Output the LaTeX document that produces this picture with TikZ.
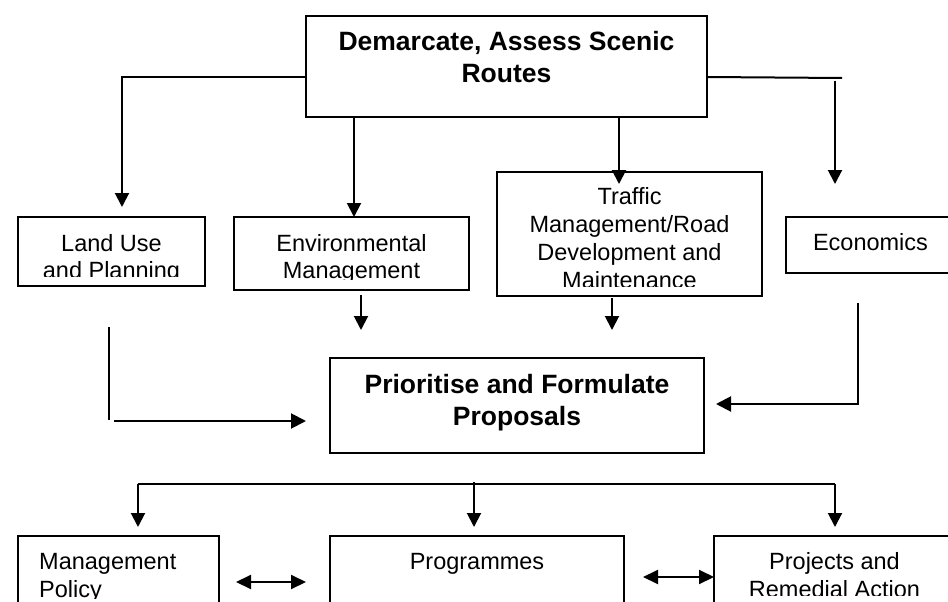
\documentclass[tikz,border=0pt]{standalone}
\usepackage{fontspec}
\setmainfont{Liberation Sans}
\usetikzlibrary{arrows.meta,calc}
\begin{document}
\begin{tikzpicture}[x=1pt,y=-1pt,
  box/.style={draw,line width=1.2pt,inner sep=0pt,outer sep=0pt},
  conn/.style={line width=2pt},
  arr/.style={conn,-{Triangle[length=14pt,width=14pt]}},
  harr/.style={conn,-{Triangle[length=15pt,width=15pt]}},
  darr/.style={conn,{Triangle[length=15pt,width=14pt]}-{Triangle[length=15pt,width=14pt]}},
  reg/.style={font=\fontsize{23.5}{27}\selectfont,anchor=base,inner sep=0pt},
  bld/.style={font=\bfseries\fontsize{26.5}{32}\selectfont,anchor=base,inner sep=0pt}]

\useasboundingbox[fill=white] (0,0) rectangle (948,602);

% boxes
\node[box,minimum width=401pt,minimum height=101pt] (top) at (506.5,66.5) {};
\node[box,minimum width=187pt,minimum height=69pt] (land) at (111.5,251.5) {};
\node[box,minimum width=235pt,minimum height=73pt] (env) at (351.5,253.5) {};
\node[box,minimum width=265pt,minimum height=124pt] (traffic) at (629.5,234) {};
\node[box,minimum width=169pt,minimum height=56pt] (econ) at (870.5,245) {};
\node[box,minimum width=374pt,minimum height=95pt] (prio) at (517,405.5) {};
\node[box,minimum width=201pt,minimum height=84pt] (mgmt) at (118.5,578) {};
\node[box,minimum width=294pt,minimum height=84pt] (prog) at (477,578) {};
\node[box,minimum width=241pt,minimum height=84pt] (proj) at (834.5,578) {};

% texts
\node[bld] (topa) at (506.5,51) {Demarcate, Assess Scenic};
\node[bld] (topb) at (506.5,82) {Routes};
\begin{scope}
  \clip (land.north west) rectangle ([yshift=10pt]land.south east);
  \node[reg] (landa) at (111.5,251) {Land Use};
  \node[reg] (landb) at (111.5,278) {and Planning};
\end{scope}
\begin{scope}
  \clip (env.north west) rectangle ([yshift=11pt]env.south east);
  \node[reg] (enva) at (351.5,251) {Environmental};
  \node[reg] (envb) at (351.5,278) {Management};
\end{scope}
\begin{scope}
  \clip (traffic.north west) rectangle ([yshift=10pt]traffic.south east);
  \node[reg] (tra) at (629.5,204) {Traffic};
  \node[reg] (trb) at (629.5,232) {Management/Road};
  \node[reg] (trc) at (629.5,260) {Development and};
  \node[reg] (trd) at (629.5,288) {Maintenance};
\end{scope}
\node[reg] (econa) at (870.5,250) {Economics};
\node[bld] (prioa) at (517,393) {Prioritise and Formulate};
\node[bld] (priob) at (517,425) {Proposals};
\begin{scope}
  \clip (mgmt.north west) rectangle (219,598);
  \node[reg,anchor=base west] (mgmta) at (39,569) {Management};
  \node[reg,anchor=base west] (mgmtb) at (39,597) {Policy};
\end{scope}
\node[reg] (proga) at (477,569) {Programmes};
\begin{scope}
  \clip (proj.north west) rectangle (955,595);
  \node[reg] (proja) at (834.5,569) {Projects and};
  \node[reg] (projb) at (834.5,597) {Remedial Action};
\end{scope}

% coordinates for free connector ends
\coordinate (alu) at (122,207);
\coordinate (envin) at ([xshift=2.5pt]env.north);
\coordinate (trin) at ([xshift=-10.5pt,yshift=-12pt]traffic.north);
\coordinate (rb1) at (842,78);
\coordinate (rb2) at (835,81);
\coordinate (rb3) at (835,184);
\coordinate (ep1) at (361,295);
\coordinate (ep2) at (361,330);
\coordinate (tp1) at (612,298);
\coordinate (tp2) at (612,330);
\coordinate (lp1) at (109,327);
\coordinate (lp2) at (109,420);
\coordinate (lp3) at (114,421);
\coordinate (lp4) at (306,421);
\coordinate (ec1) at (858,303);
\coordinate (ec2) at (716,404);
\coordinate (bl) at (138,484);
\coordinate (br) at (835,484);
\coordinate (bm) at (474,482);
\coordinate (bla) at (138,527);
\coordinate (bma) at (474,527);
\coordinate (bra) at (835,527);
\coordinate (d1) at (236,582);
\coordinate (d2) at (306,582);
\coordinate (d3) at (643,577);

% connectors from top box
\draw[arr] ([yshift=-10.5pt]top.west) -| (alu);
\draw[arr] (envin |- top.south) -- (envin);
\draw[arr] (trin |- top.south) -- (trin);
\draw[conn] ([yshift=-10.5pt]top.east) -- (rb1);
\draw[arr] (rb2) -- (rb3);

% connectors into prio
\draw[arr] (ep1) -- (ep2);
\draw[arr] (tp1) -- (tp2);
\draw[conn] (lp1) -- (lp2);
\draw[harr] (lp3) -- (lp4);
\draw[harr] (ec1) |- (ec2);

% bottom distribution
\draw[conn] (bl) -- (br);
\draw[arr] (bl) -- (bla);
\draw[arr] (bm) -- (bma);
\draw[arr] (br) -- (bra);

% double arrows
\draw[darr] (d1) -- (d2);
\draw[darr] (d3) -- (proj.west |- d3);
\end{tikzpicture}
\end{document}
